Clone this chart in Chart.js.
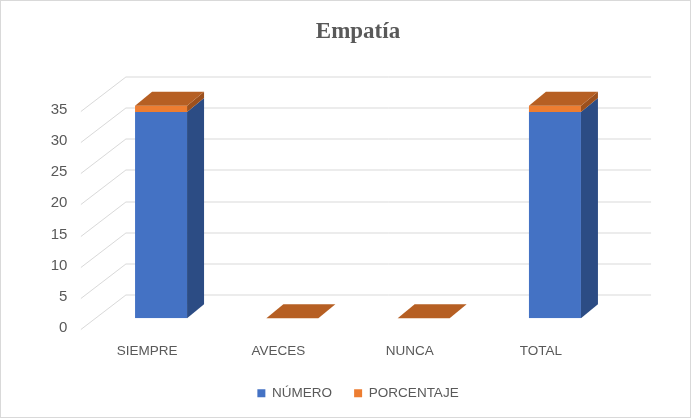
<!DOCTYPE html>
<html>
<head>
<meta charset="utf-8">
<script src="https://cdn.jsdelivr.net/npm/chart.js@4.4.1/dist/chart.umd.min.js"></script>
<style>
  html, body { margin: 0; padding: 0; background: #fff; }
  #wrap { width: 691px; height: 418px; }
</style>
</head>
<body>
<div id="wrap"><canvas id="mycanvas" width="691" height="418"></canvas></div>
<script>
// datos
var categorias = ['SIEMPRE', 'AVECES', 'NUNCA', 'TOTAL'];
var numero = [33, 0, 0, 33];
var porcentaje = [1, 0, 0, 1];
var yTicks = [0, 5, 10, 15, 20, 25, 30, 35];

// colores de caras (frente, lado, arriba)
var caras = [
  { front: '#4472c4', side: '#2c4c84', top: '#3a62a8' },
  { front: '#ed7d31', side: '#9c501d', top: '#b65f23' }
];

// profundidad de barra y de pared
var barDx = 17, barDy = 14;
var wallFront = { x: -14.5, y: 11 };
var wallBack = { x: 30.5, y: -23.5 };

var fondo3d = {
  id: 'fondo3d',
  beforeDraw: function (chart) {
    var c = chart.ctx;
    c.save();
    c.fillStyle = '#fff';
    c.fillRect(0, 0, chart.width, chart.height);
    c.strokeStyle = '#d9d9d9';
    c.lineWidth = 1;
    c.strokeRect(0.5, 0.5, chart.width - 1, chart.height - 1);
    c.restore();
  },
  beforeDatasetsDraw: function (chart) {
    var c = chart.ctx, a = chart.chartArea, y = chart.scales.y;
    c.save();
    c.strokeStyle = '#d9d9d9';
    c.lineWidth = 1;
    yTicks.forEach(function (v) {
      var py = Math.round(y.getPixelForValue(v)) + 0.5;
      c.beginPath();
      c.moveTo(a.left + wallFront.x, py + wallFront.y);
      c.lineTo(a.left + wallBack.x, py + wallBack.y);
      c.lineTo(a.right + wallBack.x, py + wallBack.y);
      c.stroke();
    });
    c.restore();
  },
  afterDatasetsDraw: function (chart) {
    var c = chart.ctx;
    var n = chart.data.datasets.length;
    c.save();
    for (var d = 0; d < n; d++) {
      var meta = chart.getDatasetMeta(d);
      meta.data.forEach(function (bar) {
        var p = bar.getProps(['x', 'y', 'base', 'width'], true);
        var r = p.x + p.width / 2;
        var t = Math.min(p.y, p.base), b = Math.max(p.y, p.base);
        if (b - t < 0.5) return;
        c.fillStyle = caras[d].side;
        c.beginPath();
        c.moveTo(r, t);
        c.lineTo(r + barDx, t - barDy);
        c.lineTo(r + barDx, b - barDy);
        c.lineTo(r, b);
        c.closePath();
        c.fill();
      });
    }
    // cara superior de la pila
    var top = chart.getDatasetMeta(n - 1);
    top.data.forEach(function (bar) {
      var p = bar.getProps(['x', 'y', 'width'], true);
      var l = p.x - p.width / 2, r = p.x + p.width / 2, t = p.y;
      c.fillStyle = caras[n - 1].top;
      c.beginPath();
      c.moveTo(l, t);
      c.lineTo(r, t);
      c.lineTo(r + barDx, t - barDy);
      c.lineTo(l + barDx, t - barDy);
      c.closePath();
      c.fill();
    });
    c.restore();
  }
};

var ctx = document.getElementById('mycanvas');
var grafico = new Chart(ctx, {
  type: 'bar',
  data: {
    labels: categorias,
    datasets: [
      { label: 'NÚMERO', data: numero, backgroundColor: caras[0].front, borderWidth: 0 },
      { label: 'PORCENTAJE', data: porcentaje, backgroundColor: caras[1].front, borderWidth: 0 }
    ]
  },
  options: {
    responsive: false,
    animation: false,
    layout: { padding: { left: 0, right: 70.4, top: 0, bottom: 8 } },
    datasets: { bar: { categoryPercentage: 1, barPercentage: 0.396 } },
    scales: {
      x: {
        stacked: true,
        grid: { display: false, drawTicks: false },
        border: { display: false },
        afterFit: function (s) { s.height = s.height - 20; },
        ticks: {
          color: '#595959',
          font: { family: 'Liberation Sans', size: 13.5 },
          padding: 25,
          labelOffset: -14,
          maxRotation: 0
        }
      },
      y: {
        stacked: true,
        min: 0,
        max: 35,
        grid: { display: false, drawTicks: false },
        border: { display: false },
        afterFit: function (s) { s.width = 95.4; },
        ticks: {
          stepSize: 5,
          color: '#595959',
          font: { family: 'Liberation Sans', size: 15 },
          padding: 28,
          labelOffset: 10
        }
      }
    },
    plugins: {
      title: {
        display: true,
        text: 'Empatía',
        fullSize: false,
        color: '#595959',
        font: { family: 'Liberation Serif', size: 23, weight: 'bold' },
        padding: { top: 18.2, bottom: 53.8 }
      },
      legend: {
        position: 'bottom',
        fullSize: false,
        labels: {
          boxWidth: 8,
          boxHeight: 8,
          padding: 22,
          color: '#595959',
          font: { family: 'Liberation Sans', size: 13.5 }
        }
      },
      tooltip: { enabled: false }
    }
  },
  plugins: [fondo3d]
});
</script>
</body>
</html>
